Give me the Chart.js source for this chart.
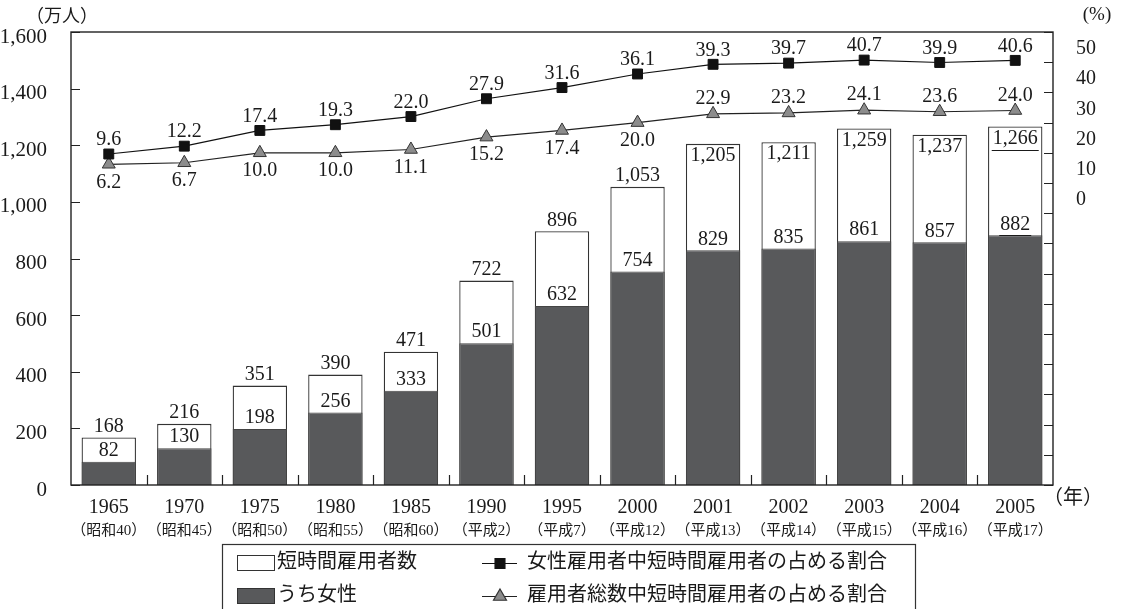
<!DOCTYPE html>
<html lang="ja">
<head>
<meta charset="utf-8">
<title>短時間雇用者数の推移</title>
<script src="https://cdn.jsdelivr.net/npm/chart.js@4.4.1/dist/chart.umd.min.js"></script>
<style>
  html, body { margin: 0; padding: 0; background: #fff; }
  #wrap { width: 1121px; height: 609px; }
</style>
</head>
<body>
<div id="wrap"><canvas id="chart" width="1121" height="609"></canvas></div>
<script>
const years = ['1965', '1970', '1975', '1980', '1985', '1990', '1995', '2000', '2001', '2002', '2003', '2004', '2005'];
const eras = ['（昭和40）', '（昭和45）', '（昭和50）', '（昭和55）', '（昭和60）', '（平成2）', '（平成7）',
  '（平成12）', '（平成13）', '（平成14）', '（平成15）', '（平成16）', '（平成17）'];

// 万人
const shortTimeTotal = [168, 216, 351, 390, 471, 722, 896, 1053, 1205, 1211, 1259, 1237, 1266];
const shortTimeWomen = [82, 130, 198, 256, 333, 501, 632, 754, 829, 835, 861, 857, 882];

// %
const womenShare = [9.6, 12.2, 17.4, 19.3, 22.0, 27.9, 31.6, 36.1, 39.3, 39.7, 40.7, 39.9, 40.6];
const overallShare = [6.2, 6.7, 10.0, 10.0, 11.1, 15.2, 17.4, 20.0, 22.9, 23.2, 24.1, 23.6, 24.0];

const SERIF = '"Liberation Serif", "Noto Sans CJK JP", serif';
const INK = '#1a1a1a';
const DARK_BAR = '#58595b';

// from 2001 on the totals sit inside the bar and the lower labels go above the line
const insideFrom = 8;
const lastIdx = years.length - 1;

Chart.defaults.font.family = SERIF;
Chart.defaults.color = INK;

const fmt = v => v.toLocaleString('en-US');

const frameAndTicks = {
  id: 'frameAndTicks',
  afterDatasetsDraw(chart) {
    const { ctx, chartArea: a, scales } = chart;
    ctx.save();
    ctx.strokeStyle = '#222';
    ctx.lineWidth = 1.2;
    ctx.beginPath();
    scales.y.ticks.forEach(t => {
      const y = Math.round(scales.y.getPixelForValue(t.value)) + 0.5;
      ctx.moveTo(a.left, y);
      ctx.lineTo(a.left + 9, y);
    });
    scales.y2.ticks.forEach(t => {
      const y = Math.round(scales.y2.getPixelForValue(t.value)) + 0.5;
      ctx.moveTo(a.right - 9, y);
      ctx.lineTo(a.right, y);
    });
    for (let i = 1; i < years.length; i++) {
      const x = Math.round((scales.x.getPixelForTick(i - 1) + scales.x.getPixelForTick(i)) / 2) + 0.5;
      ctx.moveTo(x, a.bottom);
      ctx.lineTo(x, a.bottom - 10);
    }
    ctx.stroke();
    ctx.lineWidth = 1.4;
    ctx.strokeRect(a.left, a.top, a.width, a.height);

    // unit captions
    ctx.fillStyle = INK;
    ctx.textBaseline = 'middle';
    ctx.textAlign = 'center';
    ctx.font = '18px ' + SERIF;
    ctx.fillText('（万人）', 62, 17);
    ctx.font = '19px ' + SERIF;
    ctx.fillText('(%)', 1097, 15);
    ctx.font = '20px ' + SERIF;
    ctx.fillText('（年）', 1073, 499);
    ctx.restore();
  }
};

const valueLabels = {
  id: 'valueLabels',
  afterDatasetsDraw(chart) {
    const ctx = chart.ctx;
    ctx.save();
    ctx.font = '20px ' + SERIF;
    ctx.fillStyle = INK;
    ctx.strokeStyle = INK;
    ctx.lineWidth = 1;
    ctx.textAlign = 'center';
    ctx.textBaseline = 'middle';

    const put = (text, x, y, underline) => {
      ctx.fillText(text, x, y);
      if (underline) {
        const w = ctx.measureText(text).width;
        ctx.beginPath();
        ctx.moveTo(x - w / 2 - 1, Math.round(y + 11) + 0.5);
        ctx.lineTo(x + w / 2 + 1, Math.round(y + 11) + 0.5);
        ctx.stroke();
      }
    };

    chart.getDatasetMeta(0).data.forEach((bar, i) => {
      const y = i >= insideFrom ? bar.y + 12 : bar.y - 11;
      put(fmt(shortTimeTotal[i]), bar.x, y, i === lastIdx);
    });
    chart.getDatasetMeta(1).data.forEach((bar, i) => {
      put(fmt(shortTimeWomen[i]), bar.x, bar.y - 11, i === lastIdx);
    });
    chart.getDatasetMeta(2).data.forEach((pt, i) => {
      put(womenShare[i].toFixed(1), pt.x, pt.y - 14);
    });
    chart.getDatasetMeta(3).data.forEach((pt, i) => {
      const y = i >= insideFrom ? pt.y - 15 : pt.y + 18;
      put(overallShare[i].toFixed(1), pt.x, y);
    });
    ctx.restore();
  }
};

const boxLegend = {
  id: 'boxLegend',
  afterDraw(chart) {
    const ctx = chart.ctx;
    const ds = chart.data.datasets;
    const rows = [563, 596];
    ctx.save();
    ctx.strokeStyle = '#333';
    ctx.lineWidth = 1.2;
    ctx.strokeRect(222.5, 544.5, 693, 80);

    ctx.font = '20px ' + SERIF;
    ctx.textAlign = 'left';
    ctx.textBaseline = 'middle';

    [ds[0], ds[1]].forEach((d, r) => {
      const y = rows[r];
      ctx.fillStyle = d.backgroundColor;
      ctx.fillRect(237, y - 8, 38, 16);
      ctx.strokeStyle = '#333';
      ctx.lineWidth = 1;
      ctx.strokeRect(237.5, y - 7.5, 37, 15);
      ctx.fillStyle = INK;
      ctx.fillText(d.label, 277, y);
    });

    [ds[2], ds[3]].forEach((d, r) => {
      const y = rows[r] + 0.5;
      ctx.strokeStyle = d.borderColor;
      ctx.lineWidth = 1.2;
      ctx.beginPath();
      ctx.moveTo(482, y);
      ctx.lineTo(517, y);
      ctx.stroke();
      ctx.fillStyle = d.pointBackgroundColor;
      ctx.strokeStyle = d.pointBorderColor;
      Chart.helpers.drawPoint(ctx, {
        pointStyle: d.pointStyle,
        radius: d.pointRadius,
        borderWidth: d.pointBorderWidth,
        rotation: 0
      }, 500, y);
      ctx.fillStyle = INK;
      ctx.fillText(d.label, 527, rows[r]);
    });
    ctx.restore();
  }
};

new Chart(document.getElementById('chart'), {
  type: 'bar',
  data: {
    labels: years,
    datasets: [
      {
        label: '短時間雇用者数',
        data: shortTimeTotal,
        backgroundColor: '#ffffff',
        borderColor: '#333333',
        borderWidth: 1.3,
        grouped: false,
        barPercentage: 0.72,
        categoryPercentage: 1,
        yAxisID: 'y',
        order: 3
      },
      {
        label: 'うち女性',
        data: shortTimeWomen,
        backgroundColor: DARK_BAR,
        borderColor: '#444444',
        borderWidth: 1,
        grouped: false,
        barPercentage: 0.72,
        categoryPercentage: 1,
        yAxisID: 'y',
        order: 2
      },
      {
        type: 'line',
        label: '女性雇用者中短時間雇用者の占める割合',
        data: womenShare,
        borderColor: '#111111',
        borderWidth: 1.2,
        pointStyle: 'rect',
        pointRadius: 7,
        pointBackgroundColor: '#111111',
        pointBorderColor: '#111111',
        pointBorderWidth: 1,
        yAxisID: 'y2',
        order: 0
      },
      {
        type: 'line',
        label: '雇用者総数中短時間雇用者の占める割合',
        data: overallShare,
        borderColor: '#222222',
        borderWidth: 1.2,
        pointStyle: 'triangle',
        pointRadius: 7.5,
        pointBackgroundColor: '#8c8c8c',
        pointBorderColor: '#333333',
        pointBorderWidth: 1,
        yAxisID: 'y2',
        order: 1
      }
    ]
  },
  options: {
    responsive: false,
    animation: false,
    events: [],
    layout: { padding: { top: 32, left: 0, right: 0, bottom: 72 } },
    plugins: {
      legend: { display: false },
      tooltip: { enabled: false }
    },
    scales: {
      x: {
        type: 'category',
        offset: true,
        weight: 0,
        grid: { display: false },
        border: { display: false },
        ticks: { font: { size: 20 }, padding: 3, maxRotation: 0, autoSkip: false },
        afterFit: s => { s.height = 28; }
      },
      x2: {
        type: 'category',
        position: 'bottom',
        labels: eras,
        offset: true,
        weight: 1,
        grid: { display: false },
        border: { display: false },
        ticks: { font: { size: 15 }, padding: 1, maxRotation: 0, autoSkip: false },
        afterFit: s => { s.height = 24; }
      },
      y: {
        position: 'left',
        min: 0,
        max: 1600,
        grid: { display: false },
        border: { display: false },
        ticks: { stepSize: 200, font: { size: 21 }, padding: 16, labelOffset: 5, callback: v => fmt(v) },
        afterFit: s => { s.width = 71; }
      },
      y2: {
        position: 'right',
        min: -100,
        max: 50,
        grid: { display: false },
        border: { display: false },
        ticks: {
          stepSize: 10,
          autoSkip: false,
          font: { size: 20 },
          padding: 15,
          labelOffset: 17,
          callback: v => (v >= 0 ? v : '')
        },
        afterFit: s => { s.width = 68; }
      }
    }
  },
  plugins: [frameAndTicks, valueLabels, boxLegend]
});
</script>
</body>
</html>
